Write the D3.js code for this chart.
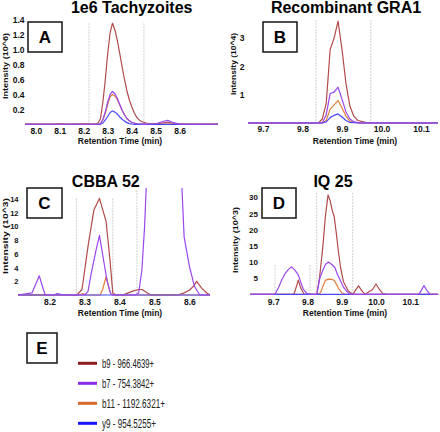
<!DOCTYPE html>
<html><head><meta charset="utf-8">
<script src="https://cdn.jsdelivr.net/npm/d3@7"></script>
<style>body{margin:0;background:#fff}svg{display:block}</style>
</head><body>
<svg id="c" width="440" height="432"></svg>
<script>
// ---------- data ----------
const seriesNames = ["b9 - 966.4639+", "b7 - 754.3842+", "b11 - 1192.6321+", "y9 - 954.5255+"];
const panelLetters = ["A", "B", "C", "D"];
const panelTitles = ["1e6 Tachyzoites", "Recombinant GRA1", "CBBA 52", "IQ 25"];
const yAxisTitles = ["Intensity (10^6)", "Intensity (10^4)", "Intensity (10^3)", "Intensity (10^3)"];

// Panel A (x10^6)
const aXTicks = [8.0, 8.1, 8.2, 8.3, 8.4, 8.5, 8.6];
const aYTicks = [0.2, 0.4, 0.6, 0.8, 1.0, 1.2, 1.4];
const aB9 = [[7.955,0.005],[8.05,0.005],[8.09,0.008],[8.1,0.013],[8.11,0.008],[8.15,0.005],[8.19,0.01],[8.21,0.012],[8.23,0.006],[8.25,0.01],[8.26,0.02],[8.27,0.08],[8.28,0.3],[8.29,0.6],[8.30,0.95],[8.31,1.22],[8.32,1.35],[8.33,1.26],[8.34,1.12],[8.35,0.95],[8.36,0.77],[8.37,0.6],[8.38,0.45],[8.39,0.33],[8.40,0.24],[8.41,0.16],[8.42,0.1],[8.43,0.065],[8.44,0.04],[8.46,0.02],[8.48,0.01],[8.52,0.015],[8.55,0.03],[8.58,0.012],[8.62,0.005],[8.76,0.005]];
const aB7 = [[7.955,0.003],[8.26,0.003],[8.27,0.01],[8.28,0.07],[8.29,0.17],[8.30,0.3],[8.31,0.4],[8.32,0.44],[8.33,0.41],[8.34,0.35],[8.35,0.27],[8.36,0.19],[8.37,0.13],[8.38,0.08],[8.39,0.05],[8.40,0.03],[8.42,0.01],[8.45,0.005],[8.5,0.01],[8.53,0.04],[8.55,0.055],[8.57,0.03],[8.6,0.005],[8.76,0.003]];
const aB11 = [[7.955,0.004],[8.08,0.005],[8.1,0.012],[8.12,0.005],[8.19,0.008],[8.21,0.012],[8.23,0.005],[8.27,0.01],[8.28,0.06],[8.29,0.15],[8.30,0.27],[8.31,0.37],[8.32,0.40],[8.33,0.38],[8.34,0.33],[8.35,0.26],[8.36,0.19],[8.37,0.13],[8.38,0.08],[8.39,0.05],[8.40,0.03],[8.42,0.01],[8.76,0.004]];
const aY9 = [[7.955,0.003],[8.27,0.003],[8.28,0.02],[8.29,0.06],[8.30,0.11],[8.31,0.16],[8.32,0.18],[8.33,0.165],[8.34,0.14],[8.35,0.1],[8.36,0.07],[8.37,0.045],[8.38,0.025],[8.39,0.012],[8.41,0.003],[8.76,0.003]];
const aMarks = [[8.222, 1.35], [8.451, 1.35]];

// Panel B (x10^4)
const bXTicks = [9.7, 9.8, 9.9, 10.0, 10.1];
const bYTicks = [1, 2, 3];
const bB9 = [[9.662,0.01],[9.84,0.01],[9.85,0.15],[9.86,0.7],[9.87,2.6],[9.88,3.0],[9.89,3.6],[9.90,2.6],[9.91,1.4],[9.92,0.6],[9.93,0.25],[9.94,0.1],[9.96,0.03],[9.98,0.01],[10.143,0.01]];
const bB7 = [[9.662,0.01],[9.85,0.01],[9.86,0.3],[9.87,1.05],[9.88,1.1],[9.89,1.27],[9.90,0.85],[9.91,0.4],[9.92,0.15],[9.93,0.05],[9.95,0.01],[10.143,0.01]];
const bB11 = [[9.662,0.01],[9.85,0.01],[9.86,0.1],[9.87,0.5],[9.88,0.65],[9.89,0.8],[9.90,0.55],[9.91,0.25],[9.92,0.08],[9.94,0.01],[10.143,0.01]];
const bY9 = [[9.662,0.01],[9.85,0.01],[9.86,0.05],[9.87,0.2],[9.88,0.28],[9.89,0.33],[9.90,0.22],[9.91,0.1],[9.92,0.03],[9.94,0.01],[10.143,0.01]];
const bMarks = [[9.834, 3.64], [9.973, 3.64]];

// Panel C (x10^3)
const cXTicks = [8.2, 8.3, 8.4, 8.5, 8.6];
const cYTicks = [2, 4, 6, 8, 10, 12, 14];
const cB9 = [[8.11,0],[8.278,0],[8.293,0.8],[8.311,7.4],[8.327,12.4],[8.343,14.1],[8.362,10.7],[8.373,5.1],[8.381,0.3],[8.39,0],[8.41,0],[8.42,0.2],[8.44,0.6],[8.455,0.8],[8.465,0.8],[8.48,0.3],[8.49,0],[8.565,0],[8.58,0.2],[8.6,0.7],[8.612,1.3],[8.621,2.0],[8.635,1.0],[8.65,0.3],[8.659,0]];
const cB7 = [[8.11,0],[8.15,0.3],[8.16,1.5],[8.171,2.8],[8.18,1.2],[8.188,0],[8.212,0],[8.222,0.2],[8.232,0.1],[8.24,0],[8.30,0],[8.31,0.5],[8.32,3.3],[8.333,6.5],[8.343,8.7],[8.355,5],[8.365,2],[8.375,0.2],[8.38,0],[8.445,0],[8.455,0.3],[8.464,3.5],[8.472,10],[8.48,20],[8.5,60],[8.56,60],[8.575,20],[8.585,8.5],[8.60,4.2],[8.615,1.2],[8.63,0],[8.659,0]];
const cB11 = [[8.11,0],[8.285,0],[8.295,0.2],[8.305,0],[8.345,0],[8.352,0.8],[8.362,2.7],[8.37,1.0],[8.375,0.2],[8.38,0],[8.659,0]];
const cY9 = [[8.11,0],[8.659,0]];
const cMarks = [[8.277, 14.1], [8.381, 14.1], [8.45, 15.3]];

// Panel D (x10^3)
const dXTicks = [9.7, 9.8, 9.9, 10.0, 10.1];
const dYTicks = [5, 10, 15, 20, 25, 30];
const dB9 = [[9.632,0],[9.76,0],[9.765,1.5],[9.773,4.4],[9.78,2],[9.79,0],[9.827,0],[9.835,5],[9.845,15],[9.852,24],[9.86,30.8],[9.866,29],[9.872,26],[9.878,24],[9.884,19],[9.89,13.4],[9.897,8],[9.905,3.9],[9.919,1],[9.932,0],[9.94,1.2],[9.949,2.6],[9.958,1.2],[9.968,0],[9.99,1.5],[10.0,3.2],[10.01,1.5],[10.02,0.2],[10.03,0],[10.182,0]];
const dB7 = [[9.632,0],[9.705,0],[9.715,2],[9.725,4.5],[9.735,6.5],[9.745,7.8],[9.754,8.5],[9.763,7.5],[9.773,6],[9.781,3.5],[9.788,1.5],[9.798,0.3],[9.81,0],[9.827,0],[9.836,5],[9.845,7.5],[9.853,9.3],[9.861,10],[9.87,9.3],[9.88,8.3],[9.888,6],[9.895,4.5],[9.905,2.2],[9.91,1.5],[9.92,0.3],[9.928,0],[10.125,0],[10.133,1.3],[10.14,2.7],[10.148,1.3],[10.158,0],[10.182,0]];
const dB11 = [[9.632,0],[9.827,0],[9.838,0.5],[9.845,2.5],[9.852,4.3],[9.861,4.7],[9.872,4.6],[9.878,4.3],[9.885,3],[9.892,1.5],[9.9,0.5],[9.91,0],[10.182,0]];
const dY9 = [[9.632,0],[10.182,0]];
const dMarks = [[9.705, 9.0], [9.807, 9.0], [9.827, 31.4], [9.932, 31.4]];

// ---------- drawing ----------
const svg = d3.select("#c");
const FONT = "'Liberation Sans', Arial, sans-serif";
const lineColors = ["#b24a4a", "#9b47ee", "#e27f3c", "#4646ff"];
const legendColors = ["#8e1b1b", "#8a2be2", "#d8692a", "#1414ff"];

const layouts = [
  {x0:25, x1:218, yBase:124.5, yTop:14, xDom:[7.955,8.76], yMax:1.473, labelX:24.5, yFont:8.5, xPad:3,
   titleX:131.7, titleY:13, box:[28,22,34,30], yTitle:[5,66,66], xTitle:[120,143.5]},
  {x0:248, x1:438, yBase:123.3, yTop:18, xDom:[9.662,10.143], yMax:3.708, labelX:244.5, yFont:8.5, xPad:3,
   titleX:346, titleY:13, box:[263,22,34,30], yTitle:[233,64,62], xTitle:[355,143.5]},
  {x0:18, x1:210, yBase:295, yTop:188, xDom:[8.11,8.659], yMax:15.62, labelX:18.5, yFont:7.5, xPad:4,
   titleX:105.8, titleY:186.7, box:[27,188,35,30], yTitle:[4.5,236,76], xTitle:[120,316]},
  {x0:250, x1:438.3, yBase:294.3, yTop:190, xDom:[9.632,10.182], yMax:32.3, labelX:258, yFont:8, xPad:4.5,
   titleX:333, titleY:187, box:[262,188,34,30], yTitle:[235,240,66], xTitle:[345,316]}
];
const panelData = [
  {xt:aXTicks, yt:aYTicks, series:[aB9,aB7,aB11,aY9], marks:aMarks, yf:d3.format(".1f")},
  {xt:bXTicks, yt:bYTicks, series:[bB9,bB7,bB11,bY9], marks:bMarks, yf:d3.format("d")},
  {xt:cXTicks, yt:cYTicks, series:[cB9,cB7,cB11,cY9], marks:cMarks, yf:d3.format("d")},
  {xt:dXTicks, yt:dYTicks, series:[dB9,dB7,dB11,dY9], marks:dMarks, yf:d3.format("d")}
];
const drawOrder = [0, 2, 3, 1];

layouts.forEach((L, i) => {
  const P = panelData[i];
  const x = d3.scaleLinear().domain(L.xDom).range([L.x0, L.x1]);
  const y = d3.scaleLinear().domain([0, L.yMax]).range([L.yBase, L.yTop]);
  const g = svg.append("g");

  g.append("text").attr("x", L.titleX).attr("y", L.titleY).attr("text-anchor", "middle")
    .attr("font-family", FONT).attr("font-weight", "bold").attr("font-size", 16).attr("fill", "#000")
    .text(panelTitles[i]);

  P.marks.forEach(m => {
    g.append("line").attr("x1", x(m[0])).attr("x2", x(m[0])).attr("y1", y(m[1])).attr("y2", y(0))
      .attr("stroke", "#cfcfcf").attr("stroke-width", 1).attr("stroke-dasharray", "2,1");
  });

  const cid = "clip" + i;
  svg.append("clipPath").attr("id", cid).append("rect")
    .attr("x", L.x0).attr("y", L.yTop).attr("width", L.x1 - L.x0).attr("height", L.yBase - L.yTop + 2);

  const line = d3.line().x(d => x(d[0])).y(d => y(d[1]));
  const lg = g.append("g").attr("clip-path", `url(#${cid})`);
  drawOrder.forEach(k => {
    lg.append("path").datum(P.series[k]).attr("d", line).attr("fill", "none")
      .attr("stroke", lineColors[k]).attr("stroke-width", 1.2).attr("stroke-linejoin", "round");
  });

  const xa = g.append("g").attr("transform", `translate(0,${L.yBase})`)
    .call(d3.axisBottom(x).tickValues(P.xt).tickSize(0).tickPadding(L.xPad).tickFormat(d3.format(".1f")));
  const ya = g.append("g").attr("transform", `translate(${L.labelX},0)`)
    .call(d3.axisLeft(y).tickValues(P.yt).tickSize(0).tickPadding(0).tickFormat(P.yf));
  xa.select(".domain").remove();
  ya.select(".domain").remove();
  xa.selectAll("text").attr("font-family", FONT).attr("font-weight", "bold").attr("font-size", 8.5).attr("fill", "#111");
  ya.selectAll("text").attr("font-family", FONT).attr("font-weight", "bold").attr("font-size", L.yFont).attr("fill", "#111");

  g.append("text").attr("x", L.xTitle[0]).attr("y", L.xTitle[1]).attr("text-anchor", "middle")
    .attr("font-family", FONT).attr("font-weight", "bold").attr("font-size", 8.5).attr("fill", "#111")
    .text("Retention Time (min)");
  g.append("text").attr("transform", `translate(${L.yTitle[0] + 3},${L.yTitle[1]}) rotate(-90)`)
    .attr("text-anchor", "middle").attr("font-family", FONT).attr("font-weight", "bold").attr("font-size", 7.5)
    .attr("textLength", L.yTitle[2]).attr("lengthAdjust", "spacingAndGlyphs").attr("fill", "#111")
    .text(yAxisTitles[i]);

  const b = L.box;
  g.append("rect").attr("x", b[0]).attr("y", b[1]).attr("width", b[2]).attr("height", b[3])
    .attr("fill", "#fff").attr("stroke", "#222").attr("stroke-width", 1.6);
  g.append("text").attr("x", b[0] + b[2] / 2).attr("y", b[1] + b[3] / 2 + 6.2).attr("text-anchor", "middle")
    .attr("font-family", FONT).attr("font-weight", "bold").attr("font-size", 17).attr("fill", "#000")
    .text(panelLetters[i]);
});

// ---------- legend (E) ----------
const E = svg.append("g");
E.append("rect").attr("x", 27).attr("y", 333).attr("width", 30).attr("height", 30)
  .attr("fill", "#fff").attr("stroke", "#222").attr("stroke-width", 1.6);
E.append("text").attr("x", 42).attr("y", 354.2).attr("text-anchor", "middle")
  .attr("font-family", FONT).attr("font-weight", "bold").attr("font-size", 17).text("E");
const legY = d3.scalePoint().domain(seriesNames).range([363.3, 423.3]);
const legLen = [52, 52, 63, 54];
seriesNames.forEach((n, k) => {
  const yy = legY(n);
  E.append("line").attr("x1", 78).attr("x2", 97).attr("y1", yy).attr("y2", yy)
    .attr("stroke", legendColors[k]).attr("stroke-width", 3);
  E.append("text").attr("x", 102).attr("y", yy + 4.2)
    .attr("font-family", "'Liberation Sans Narrow', 'Liberation Sans', Arial, sans-serif").attr("font-size", 12)
    .attr("textLength", legLen[k]).attr("lengthAdjust", "spacingAndGlyphs").attr("fill", "#222")
    .text(n);
});
</script>
</body></html>
